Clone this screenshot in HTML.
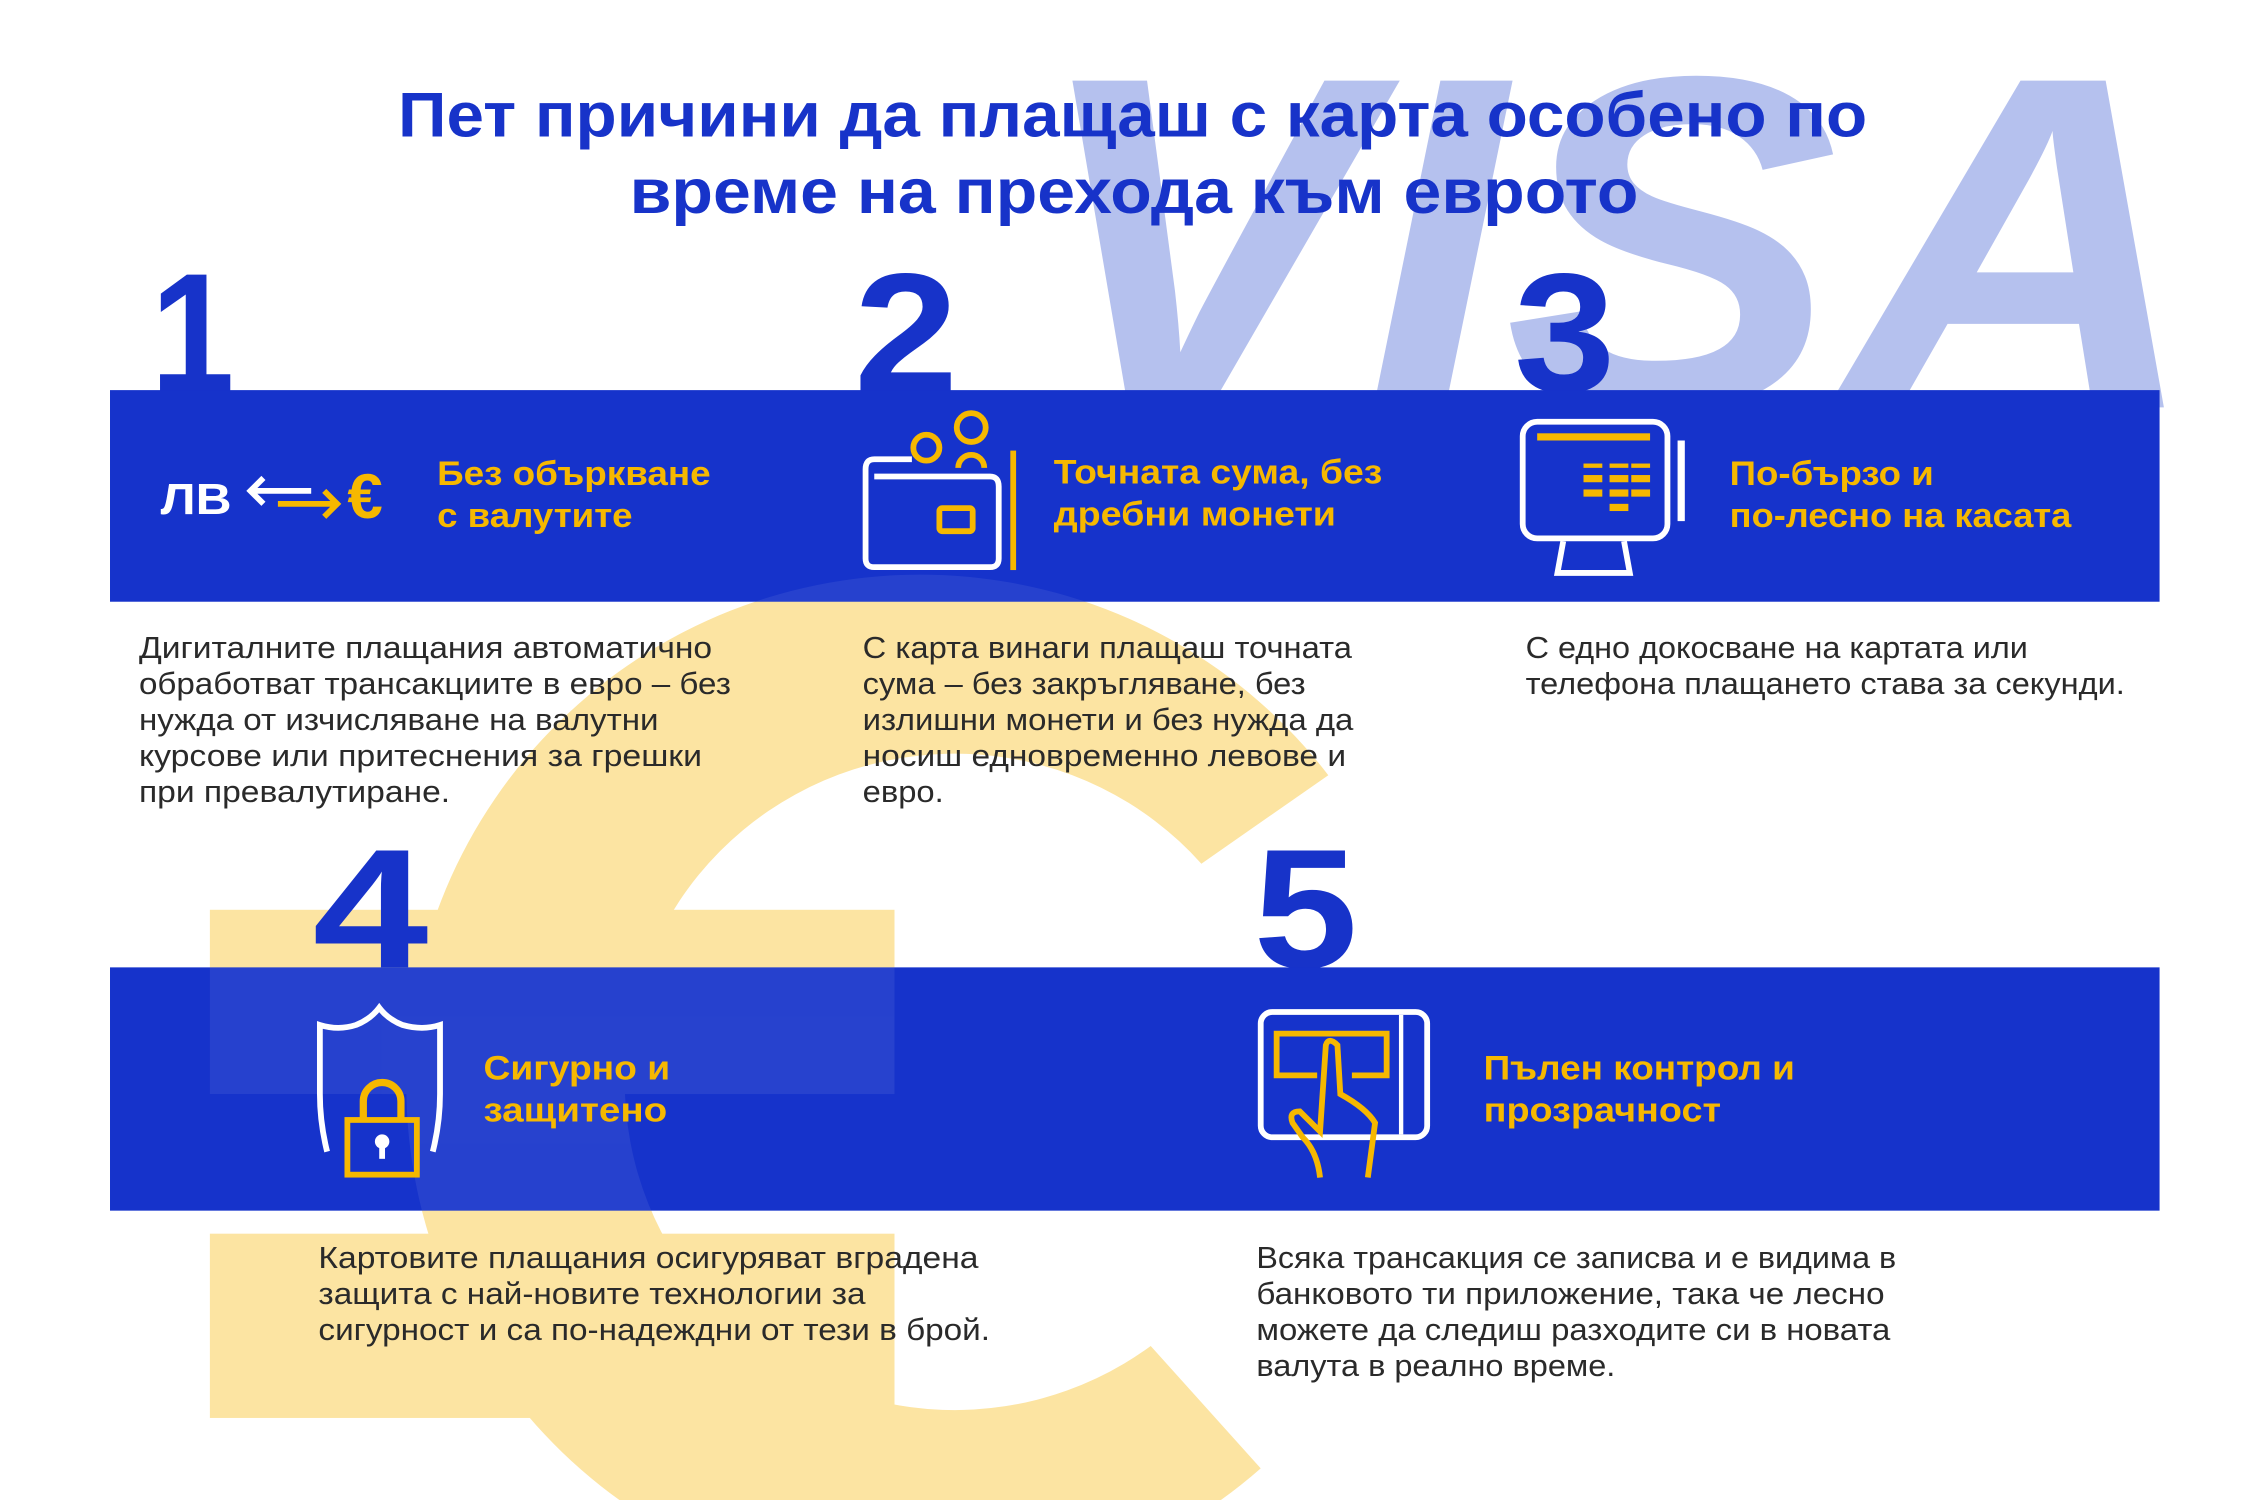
<!DOCTYPE html>
<html><head><meta charset="utf-8"><style>
html,body{margin:0;padding:0;background:#fff;width:2258px;height:1500px;overflow:hidden;}
svg{display:block;}
.t{font-family:"Liberation Sans","DejaVu Sans",sans-serif;}
.b{font-size:21px;fill:#2a2a2a;}
.h{font-size:24px;font-weight:bold;fill:#f6b800;}
.n{font-size:118px;font-weight:bold;fill:#1733c9;}
</style></head><body>
<svg width="2258" height="1500" viewBox="0 0 1560 1042" preserveAspectRatio="none" xmlns="http://www.w3.org/2000/svg">
<defs>
<clipPath id="bands"><rect x="76" y="271" width="1416" height="147"/><rect x="76" y="672" width="1416" height="169"/></clipPath>
<g id="euro">
<path d="M 917.7 538.5 A 355 355 0 1 0 871 1020 L 795 935 A 228 228 0 1 1 830 600 Z"/>
<rect x="145" y="632" width="473" height="128"/>
<rect x="145" y="857" width="473" height="128"/>
</g>
</defs>
<text class="t" x="712" y="283" font-size="330" font-weight="bold" font-style="italic" fill="#b5c1ee" textLength="808" lengthAdjust="spacingAndGlyphs">VISA</text>
<use href="#euro" fill="#fce4a2"/>
<text class="t" x="275" y="95" font-size="44" font-weight="bold" fill="#1733c9" textLength="1015" lengthAdjust="spacingAndGlyphs">Пет причини да плащаш с карта особено по</text>
<text class="t" x="435" y="148" font-size="44" font-weight="bold" fill="#1733c9" textLength="697" lengthAdjust="spacingAndGlyphs">време на прехода към еврото</text>
<text class="t n" x="104" y="272" textLength="58" lengthAdjust="spacingAndGlyphs">1</text>
<text class="t n" x="590" y="272" textLength="72" lengthAdjust="spacingAndGlyphs">2</text>
<text class="t n" x="1046" y="272" textLength="70" lengthAdjust="spacingAndGlyphs">3</text>
<text class="t n" x="216" y="672" textLength="80" lengthAdjust="spacingAndGlyphs">4</text>
<text class="t n" x="866" y="672" textLength="72" lengthAdjust="spacingAndGlyphs">5</text>
<rect x="76" y="271" width="1416" height="147" fill="#1633cb"/>
<rect x="76" y="672" width="1416" height="169" fill="#1633cb"/>
<g clip-path="url(#bands)"><use href="#euro" fill="#ffffff" opacity="0.07"/></g>
<text class="t" x="111" y="357" font-size="30" font-weight="bold" fill="#fff" textLength="49" lengthAdjust="spacingAndGlyphs">ЛВ</text>
<path d="M173 341 H215 M182 332 L173 341 L182 350" stroke="#fff" stroke-width="4" fill="none"/>
<path d="M192 350 H232 M224 341 L233 350 L224 359" stroke="#f6b800" stroke-width="4" fill="none"/>
<text class="t" x="240" y="360" font-size="44" font-weight="bold" fill="#f6b800">€</text>
<text class="t h" x="302" y="337" textLength="189" lengthAdjust="spacingAndGlyphs">Без объркване</text>
<text class="t h" x="302" y="366" textLength="135" lengthAdjust="spacingAndGlyphs">с валутите</text>
<path d="M630 319 H604 Q598 319 598 326 V388 Q598 394 604 394 H684 Q690 394 690 388 V338 Q690 331 684 331 H604" stroke="#fff" stroke-width="4" fill="none"/>
<rect x="649" y="353" width="23" height="16" rx="2" stroke="#f6b800" stroke-width="4" fill="none"/>
<circle cx="640" cy="311" r="9" stroke="#f6b800" stroke-width="4" fill="none"/>
<circle cx="671" cy="297" r="10" stroke="#f6b800" stroke-width="4" fill="none"/>
<path d="M662 325 A9 9 0 0 1 680 325" stroke="#f6b800" stroke-width="4" fill="none"/>
<rect x="698" y="313" width="4" height="83" fill="#f6b800"/>
<text class="t h" x="728" y="336" textLength="227" lengthAdjust="spacingAndGlyphs">Точната сума, без</text>
<text class="t h" x="728" y="365" textLength="195" lengthAdjust="spacingAndGlyphs">дребни монети</text>
<rect x="1052" y="293" width="100" height="81" rx="10" stroke="#fff" stroke-width="4" fill="none"/>
<path d="M1080 376 L1076 398 H1126 L1122 376" stroke="#fff" stroke-width="4" fill="none"/>
<rect x="1062" y="301" width="78" height="5" fill="#f6b800"/>
<g fill="#f6b800"><rect x="1094" y="322" width="13" height="3"/><rect x="1112" y="322" width="13" height="3"/><rect x="1127" y="322" width="13" height="3"/>
<rect x="1094" y="330" width="13" height="5"/><rect x="1112" y="330" width="13" height="5"/><rect x="1127" y="330" width="13" height="5"/>
<rect x="1094" y="340" width="13" height="5"/><rect x="1112" y="340" width="13" height="5"/><rect x="1127" y="340" width="13" height="5"/>
<rect x="1112" y="350" width="13" height="5"/></g>
<rect x="1159" y="306" width="5" height="56" fill="#fff"/>
<text class="t h" x="1195" y="337" textLength="141" lengthAdjust="spacingAndGlyphs">По-бързо и</text>
<text class="t h" x="1195" y="366" textLength="236" lengthAdjust="spacingAndGlyphs">по-лесно на касата</text>
<path d="M226 800 Q221 780 221 760 V712 Q234 716 246 712 Q256 708 262 700 Q268 708 278 712 Q292 716 304 712 V760 Q304 780 299 800" stroke="#fff" stroke-width="4" fill="none"/>
<path d="M251 778 V765 A13 13 0 0 1 277 765 V778" stroke="#f6b800" stroke-width="5" fill="none"/>
<rect x="240" y="778" width="48" height="38" stroke="#f6b800" stroke-width="4" fill="none"/>
<circle cx="264" cy="793" r="5" fill="#fff"/><rect x="262" y="795" width="4" height="10" fill="#fff"/>
<text class="t h" x="334" y="750" textLength="129" lengthAdjust="spacingAndGlyphs">Сигурно и</text>
<text class="t h" x="334" y="779" textLength="127" lengthAdjust="spacingAndGlyphs">защитено</text>
<rect x="871" y="703" width="115" height="87" rx="8" stroke="#fff" stroke-width="4" fill="none"/>
<path d="M968 705 V788" stroke="#fff" stroke-width="3"/>
<path d="M910 747 H882 V718 H958 V747 H934" stroke="#f6b800" stroke-width="4" fill="none"/>
<path d="M912 818 Q910 800 900 790 L893 780 Q890 772 898 772 L912 786 L916 726 Q918 720 924 726 L926 760 Q944 770 950 780 L945 818" stroke="#f6b800" stroke-width="4" fill="none"/>
<text class="t h" x="1025" y="750" textLength="215" lengthAdjust="spacingAndGlyphs">Пълен контрол и</text>
<text class="t h" x="1025" y="779" textLength="164" lengthAdjust="spacingAndGlyphs">прозрачност</text>
<g class="t b">
<text x="96" y="457" textLength="396" lengthAdjust="spacingAndGlyphs">Дигиталните плащания автоматично</text>
<text x="96" y="482" textLength="409" lengthAdjust="spacingAndGlyphs">обработват трансакциите в евро – без</text>
<text x="96" y="507" textLength="359" lengthAdjust="spacingAndGlyphs">нужда от изчисляване на валутни</text>
<text x="96" y="532" textLength="389" lengthAdjust="spacingAndGlyphs">курсове или притеснения за грешки</text>
<text x="96" y="557" textLength="215" lengthAdjust="spacingAndGlyphs">при превалутиране.</text>
<text x="596" y="457" textLength="338" lengthAdjust="spacingAndGlyphs">С карта винаги плащаш точната</text>
<text x="596" y="482" textLength="306" lengthAdjust="spacingAndGlyphs">сума – без закръгляване, без</text>
<text x="596" y="507" textLength="339" lengthAdjust="spacingAndGlyphs">излишни монети и без нужда да</text>
<text x="596" y="532" textLength="334" lengthAdjust="spacingAndGlyphs">носиш едновременно левове и</text>
<text x="596" y="557" textLength="56" lengthAdjust="spacingAndGlyphs">евро.</text>
<text x="1054" y="457" textLength="347" lengthAdjust="spacingAndGlyphs">С едно докосване на картата или</text>
<text x="1054" y="482" textLength="414" lengthAdjust="spacingAndGlyphs">телефона плащането става за секунди.</text>
<text x="220" y="881" textLength="456" lengthAdjust="spacingAndGlyphs">Картовите плащания осигуряват вградена</text>
<text x="220" y="906" textLength="378" lengthAdjust="spacingAndGlyphs">защита с най-новите технологии за</text>
<text x="220" y="931" textLength="464" lengthAdjust="spacingAndGlyphs">сигурност и са по-надеждни от тези в брой.</text>
<text x="868" y="881" textLength="442" lengthAdjust="spacingAndGlyphs">Всяка трансакция се записва и е видима в</text>
<text x="868" y="906" textLength="434" lengthAdjust="spacingAndGlyphs">банковото ти приложение, така че лесно</text>
<text x="868" y="931" textLength="438" lengthAdjust="spacingAndGlyphs">можете да следиш разходите си в новата</text>
<text x="868" y="956" textLength="248" lengthAdjust="spacingAndGlyphs">валута в реално време.</text>
</g>
</svg>
</body></html>
